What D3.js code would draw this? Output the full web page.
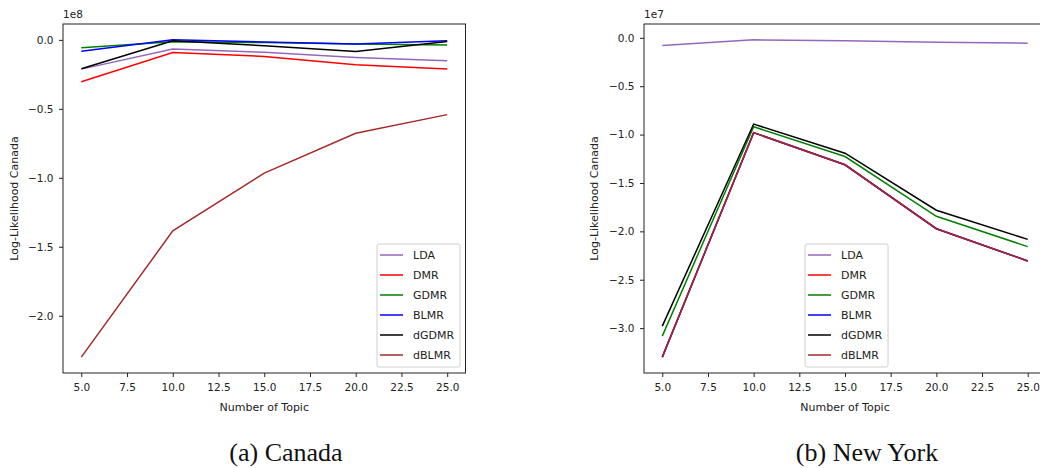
<!DOCTYPE html>
<html>
<head>
<meta charset="utf-8">
<script src="https://cdn.jsdelivr.net/npm/d3@7"></script>
<style>
  body { margin: 0; background: #fff; }
  svg text { font-family: "DejaVu Sans", sans-serif; fill: #222; }
  .tick line, .domain { stroke: #222; }
  .caption { font-family: "Liberation Serif", "Times New Roman", serif; fill: #111; }
</style>
</head>
<body>
<div id="chart"></div>
<script>
// x values (number of topics)
var topics = [5, 10, 15, 20, 25];
var models = ["LDA", "DMR", "GDMR", "BLMR", "dGDMR", "dBLMR"];
var xTicks = [5, 7.5, 10, 12.5, 15, 17.5, 20, 22.5, 25];

// Canada, values in units of 1e8
var canadaLDA   = [-0.212, -0.067, -0.090, -0.128, -0.152];
var canadaDMR   = [-0.303, -0.092, -0.120, -0.180, -0.212];
var canadaGDMR  = [-0.058, -0.014, -0.020, -0.030, -0.038];
var canadaBLMR  = [-0.082,  0.000, -0.015, -0.030, -0.007];
var canadaDGDMR = [-0.210, -0.007, -0.043, -0.085, -0.012];
var canadaDBLMR = [-2.300, -1.385, -0.966, -0.677, -0.542];
var canadaYTicks = [0, -0.5, -1, -1.5, -2];

// New York, values in units of 1e7
var nyLDA   = [-0.079, -0.021, -0.031, -0.045, -0.055];
var nyDMR   = [-3.300, -0.980, -1.312, -1.973, -2.306];
var nyGDMR  = [-3.083, -0.919, -1.227, -1.844, -2.158];
var nyBLMR  = [-3.300, -0.980, -1.312, -1.973, -2.306];
var nyDGDMR = [-2.980, -0.891, -1.192, -1.782, -2.083];
var nyDBLMR = [-3.300, -0.980, -1.312, -1.973, -2.306];
var nyYTicks = [0, -0.5, -1, -1.5, -2, -2.5, -3];

var colors = ["#9467bd", "#ff0000", "#008000", "#0000ff", "#000000", "#a52a2a"];

var svg = d3.select("#chart").append("svg")
  .attr("width", 1040)
  .attr("height", 468);

function pad(ext) {
  var m = (ext[1] - ext[0]) * 0.05;
  return [ext[0] - m, ext[1] + m];
}

function drawPanel(opt) {
  var w = opt.right - opt.left, h = opt.bottom - opt.top;
  var g = svg.append("g").attr("transform", "translate(" + opt.left + "," + opt.top + ")");

  var all = d3.merge(opt.series);
  var x = d3.scaleLinear().domain(pad(d3.extent(topics))).range([0, w]);
  var y = d3.scaleLinear().domain(pad(d3.extent(all))).range([h, 0]);

  var fmt = function (d) { return d3.format(".1f")(d).replace("-", "\u2212"); };

  var xa = g.append("g").attr("transform", "translate(0," + h + ")")
    .call(d3.axisBottom(x).tickValues(xTicks).tickSize(4).tickPadding(6.5).tickFormat(fmt));
  var ya = g.append("g")
    .call(d3.axisLeft(y).tickValues(opt.yTicks).tickSize(4).tickPadding(5.5).tickFormat(fmt));
  [xa, ya].forEach(function (a) {
    a.select(".domain").remove();
    a.selectAll("text").style("font-size", "10.5px").style("fill", "#222");
  });

  var line = d3.line()
    .x(function (d, i) { return x(topics[i]); })
    .y(function (d) { return y(d); });

  opt.series.forEach(function (s, k) {
    g.append("path").datum(s)
      .attr("d", line)
      .attr("fill", "none")
      .attr("stroke", colors[k])
      .attr("stroke-width", 1.5);
  });

  // frame
  g.append("rect").attr("width", w).attr("height", h)
    .attr("fill", "none").attr("stroke", "#222").attr("stroke-width", 1);

  g.append("text").attr("x", 0).attr("y", -6)
    .style("font-size", "10.5px").text(opt.exp);

  g.append("text")
    .attr("x", w / 2).attr("y", h + 38)
    .attr("text-anchor", "middle")
    .style("font-size", "11px")
    .text("Number of Topic");

  g.append("text")
    .attr("transform", "translate(" + opt.ylabX + "," + (h / 2) + ") rotate(-90)")
    .attr("text-anchor", "middle")
    .style("font-size", "11px")
    .text("Log-Likelihood Canada");

  // legend
  var lg = g.append("g").attr("transform", "translate(" + opt.legX + "," + opt.legY + ")");
  lg.append("rect").attr("width", 83).attr("height", 123)
    .attr("rx", 2).attr("fill", "#fff").attr("fill-opacity", 0.8)
    .attr("stroke", "#d0d0d0");
  models.forEach(function (m, k) {
    var yy = 11 + k * 20;
    lg.append("line").attr("x1", 3).attr("x2", 26).attr("y1", yy).attr("y2", yy)
      .attr("stroke", colors[k]).attr("stroke-width", 1.5);
    lg.append("text").attr("x", 36).attr("y", yy + 4)
      .style("font-size", "11px").text(m);
  });

  svg.append("text").attr("class", "caption")
    .attr("x", opt.capX).attr("y", 461)
    .attr("text-anchor", "middle")
    .style("font-size", "26px")
    .text(opt.caption);
}

drawPanel({
  left: 63, right: 465.5, top: 24, bottom: 373,
  series: [canadaLDA, canadaDMR, canadaGDMR, canadaBLMR, canadaDGDMR, canadaDBLMR],
  yTicks: canadaYTicks, exp: "1e8", ylabX: -45,
  legX: 314, legY: 220, capX: 286, caption: "(a) Canada"
});

drawPanel({
  left: 644, right: 1046, top: 24, bottom: 373,
  series: [nyLDA, nyDMR, nyGDMR, nyBLMR, nyDGDMR, nyDBLMR],
  yTicks: nyYTicks, exp: "1e7", ylabX: -46,
  legX: 161, legY: 220, capX: 867, caption: "(b) New York"
});
</script>
</body>
</html>
